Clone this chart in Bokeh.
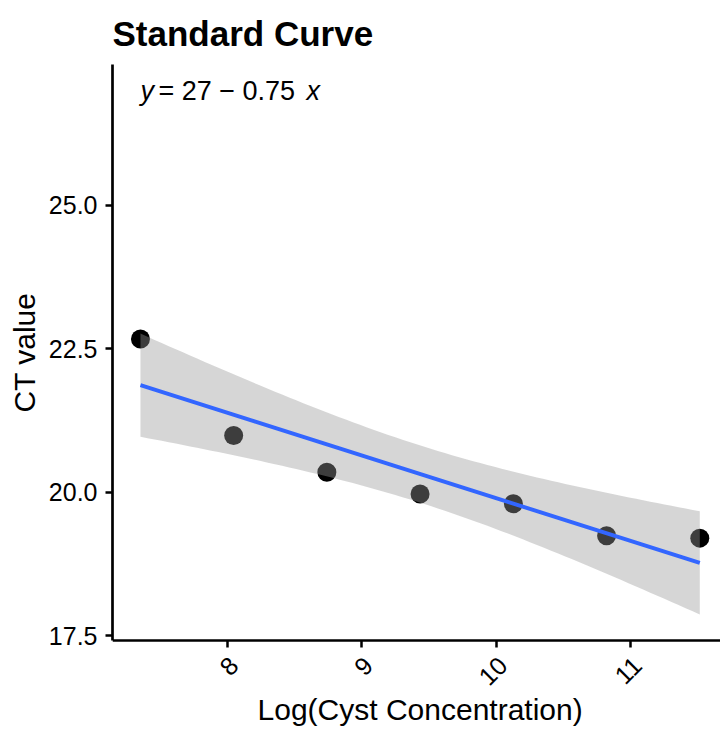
import math
import numpy as np
from bokeh.plotting import figure
from bokeh.models import (Range1d, FixedTicker, Label, LabelSet, ColumnDataSource,
                          PrintfTickFormatter, Title)
from bokeh.core.properties import value
from bokeh.embed import file_html
from bokeh.resources import INLINE

# ---- data ----
log_conc = [7.354, 8.047, 8.740, 9.433, 10.127, 10.820, 11.513]   # Log(Cyst Concentration)
ct_value = [22.67, 20.99, 20.35, 19.97, 19.80, 19.24, 19.20]      # CT value
x_ticks = [8, 9, 10, 11]
x_tick_labels = ["8", "9", "10", "11"]
y_ticks = [17.5, 20.0, 22.5, 25.0]
eq_label_y = 27.0
T_975_DF5 = 2.5706  # t quantile for the 95% confidence band (n - 2 = 5 df)

x = np.array(log_conc)
y = np.array(ct_value)

# ---- linear fit with 95% confidence band (as geom_smooth(method="lm")) ----
n = len(x)
slope, intercept = np.polyfit(x, y, 1)
resid = y - (intercept + slope * x)
s = math.sqrt(np.sum(resid ** 2) / (n - 2))
sxx = np.sum((x - x.mean()) ** 2)
xs = np.linspace(x.min(), x.max(), 80)
fit = intercept + slope * xs
se = s * np.sqrt(1.0 / n + (xs - x.mean()) ** 2 / sxx)
lower = fit - T_975_DF5 * se
upper = fit + T_975_DF5 * se

# scale limits: 5% expansion (the right side is cropped as in the reference)
y_lo = min(lower.min(), y.min())
y_hi = max(upper.max(), y.max(), eq_label_y)
ypad = 0.05 * (y_hi - y_lo)
xpad = 0.05 * (x.max() - x.min())
x_start = x.min() - xpad
x_end = 11.667
y_start = y_lo - ypad          # where the x axis sits
y_top = y_hi + ypad
# room under the x axis for the tick labels and axis title
y_bottom = y_start - 0.1541 * (y_top - y_start)

FONT = "Liberation Sans"

p = figure(width=720, height=729, output_backend="svg", toolbar_location=None,
           x_range=Range1d(x_start, x_end), y_range=Range1d(y_bottom, y_top),
           title="Standard Curve", min_border_left=0, min_border_right=0,
           min_border_top=0, min_border_bottom=0)
p.outline_line_color = None
p.xgrid.visible = False
p.ygrid.visible = False
p.background_fill_color = "white"
p.border_fill_color = "white"

p.title.text_font = FONT
p.title.text_font_size = "35px"
p.title.text_font_style = "bold"
p.title.text_color = "black"
p.title.standoff = 23
p.title.offset = 0

for ax in (p.xaxis[0], p.yaxis[0]):
    ax.axis_line_color = "black"
    ax.axis_line_width = 2.7
    ax.major_tick_line_color = "black"
    ax.major_tick_line_width = 2.5
    ax.major_tick_out = 7
    ax.major_tick_in = 0
    ax.minor_tick_line_color = None
    ax.major_label_text_font = FONT
    ax.major_label_text_font_size = "25px"
    ax.major_label_text_color = "black"

# x axis drawn at the bottom of the data area; rotated labels anchored top-right (ggplot style)
p.xaxis.fixed_location = y_start
p.xaxis.ticker = FixedTicker(ticks=x_ticks)
p.xaxis.major_label_overrides = {t: "" for t in x_ticks}
tick_src = ColumnDataSource(dict(x=x_ticks, y=[y_start] * len(x_ticks), t=x_tick_labels))
p.add_layout(LabelSet(x="x", y="y", text="t", source=tick_src, angle=math.pi / 4,
                      y_offset=-14, text_align="right", text_baseline="top",
                      text_font=value(FONT), text_font_size=value("25px"),
                      text_color="black"))
p.add_layout(Label(x=(x.min() + x.max()) / 2, y=y_start, y_offset=-69,
                   text="Log(Cyst Concentration)", text_align="center",
                   text_baseline="alphabetic", text_font=FONT, text_font_size="30px",
                   text_color="black"))

p.yaxis.ticker = FixedTicker(ticks=y_ticks)
p.yaxis.bounds = (y_start, y_top)
p.yaxis.formatter = PrintfTickFormatter(format="%.1f")
p.yaxis.major_label_standoff = 8

# y axis title, positioned along the axis' drawn extent
p.add_layout(Title(text="CT value", align="right", offset=228, standoff=10,
                   text_font=FONT, text_font_size="30px", text_font_style="normal",
                   text_color="black"), "left")

# points, then ribbon over them, then fitted line (ggplot layer order)
p.scatter(x, y, size=19, fill_color="black", line_color=None)
p.varea(x=xs, y1=lower, y2=upper, fill_color="#999999", fill_alpha=0.4)
p.line(xs, fit, line_color="#3366FF", line_width=4)

# regression equation label
eq_x = float(x.min())
p.add_layout(Label(x=eq_x, y=eq_label_y, text="y", text_font=FONT, text_font_size="27px",
                   text_font_style="italic", text_baseline="middle", text_color="black"))
p.add_layout(Label(x=eq_x, y=eq_label_y, x_offset=18,
                   text="= 27 \u2212 0.75", text_font=FONT, text_font_size="27px",
                   text_baseline="middle", text_color="black"))
p.add_layout(Label(x=eq_x, y=eq_label_y, x_offset=166, text="x", text_font=FONT,
                   text_font_size="27px", text_font_style="italic",
                   text_baseline="middle", text_color="black"))

open("out.html", "w").write(file_html(p, INLINE))
